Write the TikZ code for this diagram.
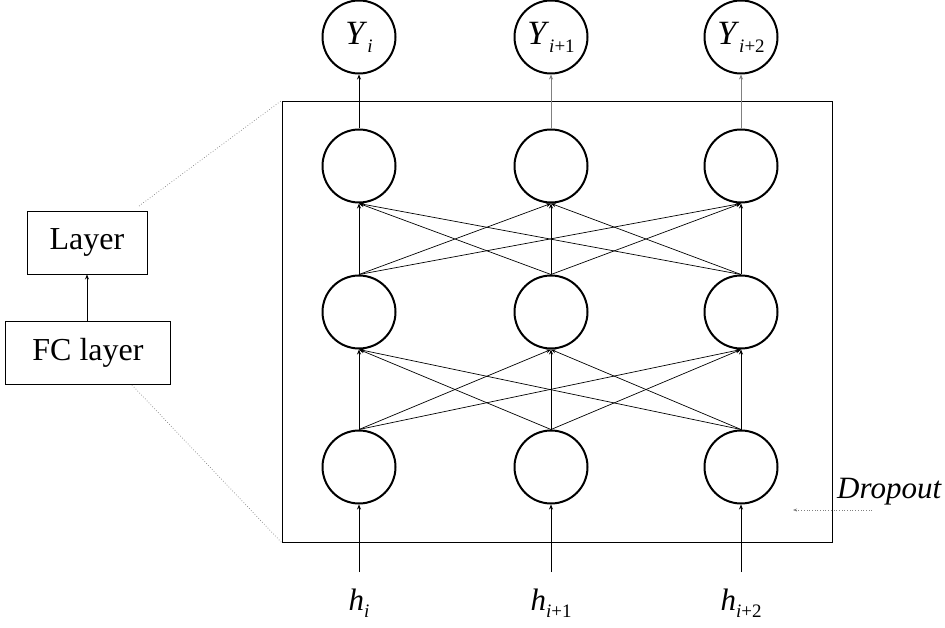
\documentclass[tikz,border=0pt]{standalone}
\usepackage{fontspec}
\setmainfont{Liberation Serif}
\usetikzlibrary{arrows.meta}
\tikzset{
  neuron/.style={circle, draw, line width=2pt, minimum size=73pt, inner sep=0pt},
  conn/.style={line width=0.7pt, -{Stealth[length=5pt,width=4pt]}},
  lbox/.style={draw, line width=0.9pt, inner sep=0pt, font=\fontsize{32}{34}\selectfont},
  guide/.style={gray, dotted, line width=0.7pt},
}
\newcommand{\Ylab}[2]{\textit{#1}\raisebox{-0.5ex}{\fontsize{19}{21}\selectfont #2}}
\begin{document}
\begin{tikzpicture}[x=1pt,y=-1pt]
\useasboundingbox (0,0) rectangle (945,628);
% output nodes
\node[neuron, font=\fontsize{34}{36}\selectfont] (y1) at (359,37) {\Ylab{Y}{\textit{i}}};
\node[neuron, font=\fontsize{34}{36}\selectfont] (y2) at (551,37) {\Ylab{Y}{\textit{i}+1}};
\node[neuron, font=\fontsize{34}{36}\selectfont] (y3) at (741,37) {\Ylab{Y}{\textit{i}+2}};
% big frame
\node[draw, line width=0.9pt, minimum width=550pt, minimum height=441pt, inner sep=0pt] (box) at (557,321.5) {};
% layers
\foreach \c/\x in {1/359,2/551,3/741}{
  \node[neuron] (t\c) at (\x,166) {};
  \node[neuron] (m\c) at (\x,312) {};
  \node[neuron] (b\c) at (\x,467) {};
  \coordinate (hs\c) at (\x,572);
}
% inputs
\node[font=\fontsize{31}{33}\selectfont] (h1) at (359,603) {\Ylab{h}{\textit{i}}};
\node[font=\fontsize{31}{33}\selectfont] (h2) at (551,603) {\Ylab{h}{\textit{i}+1}};
\node[font=\fontsize{31}{33}\selectfont] (h3) at (741,603) {\Ylab{h}{\textit{i}+2}};
\foreach \c in {1,2,3}{
  \draw[conn] (hs\c) -- (b\c.south);
}
% cross connections
\foreach \i in {1,2,3}{
  \foreach \j in {1,2,3}{
    \draw[conn] (b\i.north) -- (m\j.south);
    \draw[conn] (m\i.north) -- (t\j.south);
  }
}
% to outputs
\draw[conn] (t1.north) -- (y1.south);
\draw[conn, gray] (t2.north) -- (y2.south);
\draw[conn, gray] (t3.north) -- (y3.south);
% left boxes
\node[lbox, minimum width=120pt, minimum height=63pt] (layer) at (87,242.5) {Layer};
\node[lbox, minimum width=165pt, minimum height=63pt] (fc) at (88,352.5) {FC layer};
\draw[conn] (fc.north -| layer.south) -- (layer.south);
% guides
\coordinate (g1) at (139,206);
\coordinate (g2) at (132,385);
\draw[guide] (g1) -- (box.north west);
\draw[guide] (g2) -- (box.south west);
% dropout
\node[font=\fontsize{31}{33}\selectfont\itshape, anchor=west, inner sep=0pt] (drop) at (837,492) {Dropout};
\coordinate (ds) at (872,510);
\coordinate (de) at (793,510);
\draw[guide, -{Stealth[length=4pt,width=3pt]}] (ds) -- (de);
\end{tikzpicture}
\end{document}
